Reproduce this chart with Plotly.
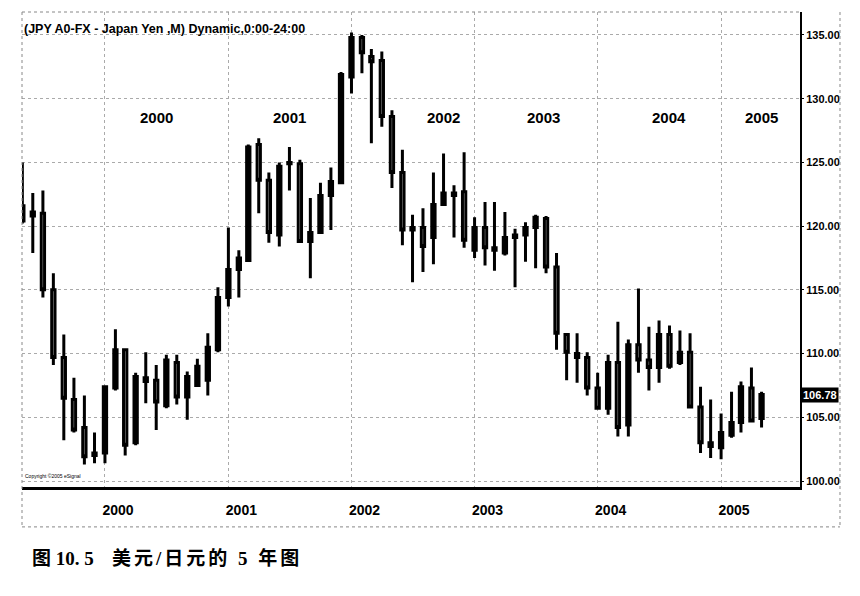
import pandas as pd
import plotly.graph_objects as go

# monthly USD/JPY bars, May 1999 - May 2005
opens = [120.4, 121.1, 121.0, 115.0, 109.7, 106.4, 104.2, 102.0,
         102.2, 107.3, 110.3, 103.0, 108.1, 107.9, 105.9, 109.3, 106.6, 107.5, 107.9, 110.3,
         114.4, 116.6, 117.3, 126.4, 123.6, 119.3, 125.0, 124.9, 118.8, 119.5, 122.4, 123.4,
         131.7, 134.8, 133.3, 133.0, 128.6, 124.2, 119.7, 119.9, 119.1, 121.7, 122.6, 122.7,
         118.1, 119.9, 118.3, 117.9, 119.1, 119.3, 119.9, 120.6, 116.8, 111.5, 110.0, 109.7,
         107.3, 105.7, 109.3, 104.4, 110.7, 109.5, 108.9, 111.5, 109.3, 110.1, 105.8, 103.0,
         102.6, 103.6, 104.6, 107.3, 104.9]
highs = [125.0, 122.6, 122.8, 116.3, 111.5, 108.1, 106.7, 103.8,
         107.5, 111.9, 110.4, 108.5, 110.1, 109.1, 109.9, 109.9, 108.6, 109.6, 111.6, 115.2,
         119.9, 118.1, 126.4, 126.9, 124.2, 125.0, 126.2, 125.2, 122.2, 123.4, 124.6, 132.1,
         135.2, 135.0, 133.9, 133.7, 129.1, 126.0, 120.9, 121.4, 124.2, 125.7, 123.2, 125.8,
         120.7, 121.9, 121.9, 121.1, 119.8, 120.3, 120.9, 120.8, 117.9, 111.6, 111.6, 110.1,
         108.5, 109.9, 112.5, 111.1, 115.1, 112.1, 112.6, 112.2, 111.8, 111.6, 107.4, 106.4,
         105.3, 107.0, 107.8, 108.9, 107.0]
lows = [120.2, 117.9, 114.4, 109.1, 103.2, 103.8, 101.3, 101.4,
        101.4, 107.1, 102.0, 102.8, 106.1, 104.0, 105.7, 106.0, 104.8, 107.4, 106.7, 110.1,
        113.7, 114.4, 117.2, 121.0, 118.7, 118.4, 122.8, 118.7, 115.9, 119.4, 119.7, 123.3,
        130.4, 132.0, 126.5, 127.8, 123.0, 118.5, 115.6, 116.4, 117.0, 121.6, 119.1, 118.3,
        117.5, 116.9, 116.5, 117.7, 115.2, 117.2, 116.7, 116.3, 110.3, 107.9, 107.7, 106.7,
        105.6, 105.2, 103.5, 103.5, 108.5, 107.1, 107.7, 108.8, 109.1, 105.7, 102.2, 101.8,
        101.7, 103.4, 103.8, 104.6, 104.2]
closes = [121.6, 120.8, 115.0, 109.7, 106.5, 104.0, 101.9, 102.2,
          107.4, 110.3, 102.8, 108.2, 107.8, 106.2, 109.5, 106.6, 108.2, 109.0, 110.5, 114.4,
          116.6, 117.5, 126.2, 123.6, 119.5, 124.7, 124.9, 118.8, 119.5, 122.4, 123.5, 131.9,
          134.8, 133.6, 132.9, 128.6, 124.2, 119.7, 119.9, 118.4, 121.7, 122.6, 122.4, 118.9,
          119.9, 118.3, 118.1, 119.1, 119.3, 119.9, 120.7, 116.8, 111.6, 110.1, 109.7, 107.3,
          105.7, 109.3, 104.2, 110.7, 109.5, 108.9, 111.5, 109.0, 110.1, 105.8, 103.0, 102.7,
          103.8, 104.6, 107.4, 104.7, 106.78]
months = pd.date_range("1999-05-01", periods=len(closes), freq="MS")

year_ticks = ["2000-01-01", "2001-01-01", "2002-01-01", "2003-01-01", "2004-01-01", "2005-01-01"]
year_text = ["2000", "2001", "2002", "2003", "2004", "2005"]
# year labels written inside the chart
inner_label_x = ["2000-06-01", "2001-07-01", "2002-10-01", "2003-07-25", "2004-08-01", "2005-05-01"]
inner_label_y = 128.5
last_price = closes[-1]

fig = go.Figure()
fig.add_trace(go.Candlestick(
    x=months, open=opens, high=highs, low=lows, close=closes,
    increasing=dict(line=dict(color="black", width=3), fillcolor="black"),
    decreasing=dict(line=dict(color="black", width=3), fillcolor="white"),
    whiskerwidth=0, showlegend=False, hoverinfo="x+y"))

for txt, xv in zip(year_text, inner_label_x):
    fig.add_annotation(x=xv, y=inner_label_y, text="<b>%s</b>" % txt, showarrow=False,
                       font=dict(family="Arial", size=15, color="black"))

fig.add_annotation(xref="paper", yref="paper", x=0, y=0.983, xanchor="left",
                   text="<b>(JPY A0-FX - Japan Yen ,M) Dynamic,0:00-24:00</b>",
                   showarrow=False, font=dict(family="Arial", size=12.5, color="black"))
fig.add_annotation(xref="paper", yref="paper", x=0.001, y=0.012, xanchor="left",
                   text="Copyright ©2005 eSignal", showarrow=False,
                   font=dict(family="Arial", size=5, color="black"))
fig.add_annotation(xref="paper", y=last_price, x=1, xanchor="left", xshift=1,
                   text="<b>%.2f</b>" % last_price, showarrow=False, bgcolor="black",
                   borderpad=1, font=dict(family="Arial", size=11, color="white"))
# figure caption
fig.add_annotation(xref="paper", yref="paper", x=0.0103, y=-0.177, xanchor="left",
                   text="<b>图 10. 5</b>", showarrow=False,
                   font=dict(family="Liberation Serif, Noto Sans CJK SC", size=19, color="black"))
fig.add_annotation(xref="paper", yref="paper", x=0.113, y=-0.177, xanchor="left",
                   text="<b><span style='letter-spacing:3px'>美元/日元的 5 年图</span></b>",
                   showarrow=False,
                   font=dict(family="Liberation Serif, Noto Sans CJK SC", size=19, color="black"))

# outer frame of the screenshot
frame = dict(color="#888", width=1, dash="dot")
fig.add_shape(type="line", xref="paper", yref="paper", x0=1.0514, x1=1.0514, y0=1, y1=-0.084, line=frame)
fig.add_shape(type="line", xref="paper", yref="paper", x0=0, x1=0, y0=1, y1=-0.084, line=frame)
fig.add_shape(type="line", xref="paper", yref="paper", x0=0, x1=1.0514, y0=-0.084, y1=-0.084, line=frame)
fig.add_shape(type="line", xref="paper", yref="paper", x0=0, x1=1, y0=1, y1=1, line=frame)

fig.update_xaxes(range=["1999-04-30", "2005-08-23"], tickvals=year_ticks,
                 ticktext=["<b>%s</b>" % t for t in year_text],
                 ticklabelshift=13, ticklabelstandoff=8, ticks="",
                 tickfont=dict(family="Arial", size=14, color="black"),
                 showgrid=True, gridcolor="#aaa", griddash="dot", gridwidth=1,
                 showline=True, linecolor="black", linewidth=2.5,
                 rangeslider_visible=False, zeroline=False)
fig.update_yaxes(range=[99.53, 136.8], side="right", dtick=5, tick0=100, tickformat=".2f",
                 ticks="outside", ticklen=2, tickcolor="black",
                 tickprefix="<b>", ticksuffix="</b>",
                 tickfont=dict(family="Arial", size=11, color="black"),
                 showgrid=True, gridcolor="#aaa", griddash="dot", gridwidth=1,
                 showline=True, linecolor="black", linewidth=2, zeroline=False)
# page body adds 8px margin, so figure is a bit smaller than the window
fig.update_layout(width=844, height=580, margin=dict(l=14, r=52, t=4, b=101),
                  paper_bgcolor="white", plot_bgcolor="white", boxgap=0.5,
                  font=dict(family="Arial", color="black"))
fig.write_html("out.html")
